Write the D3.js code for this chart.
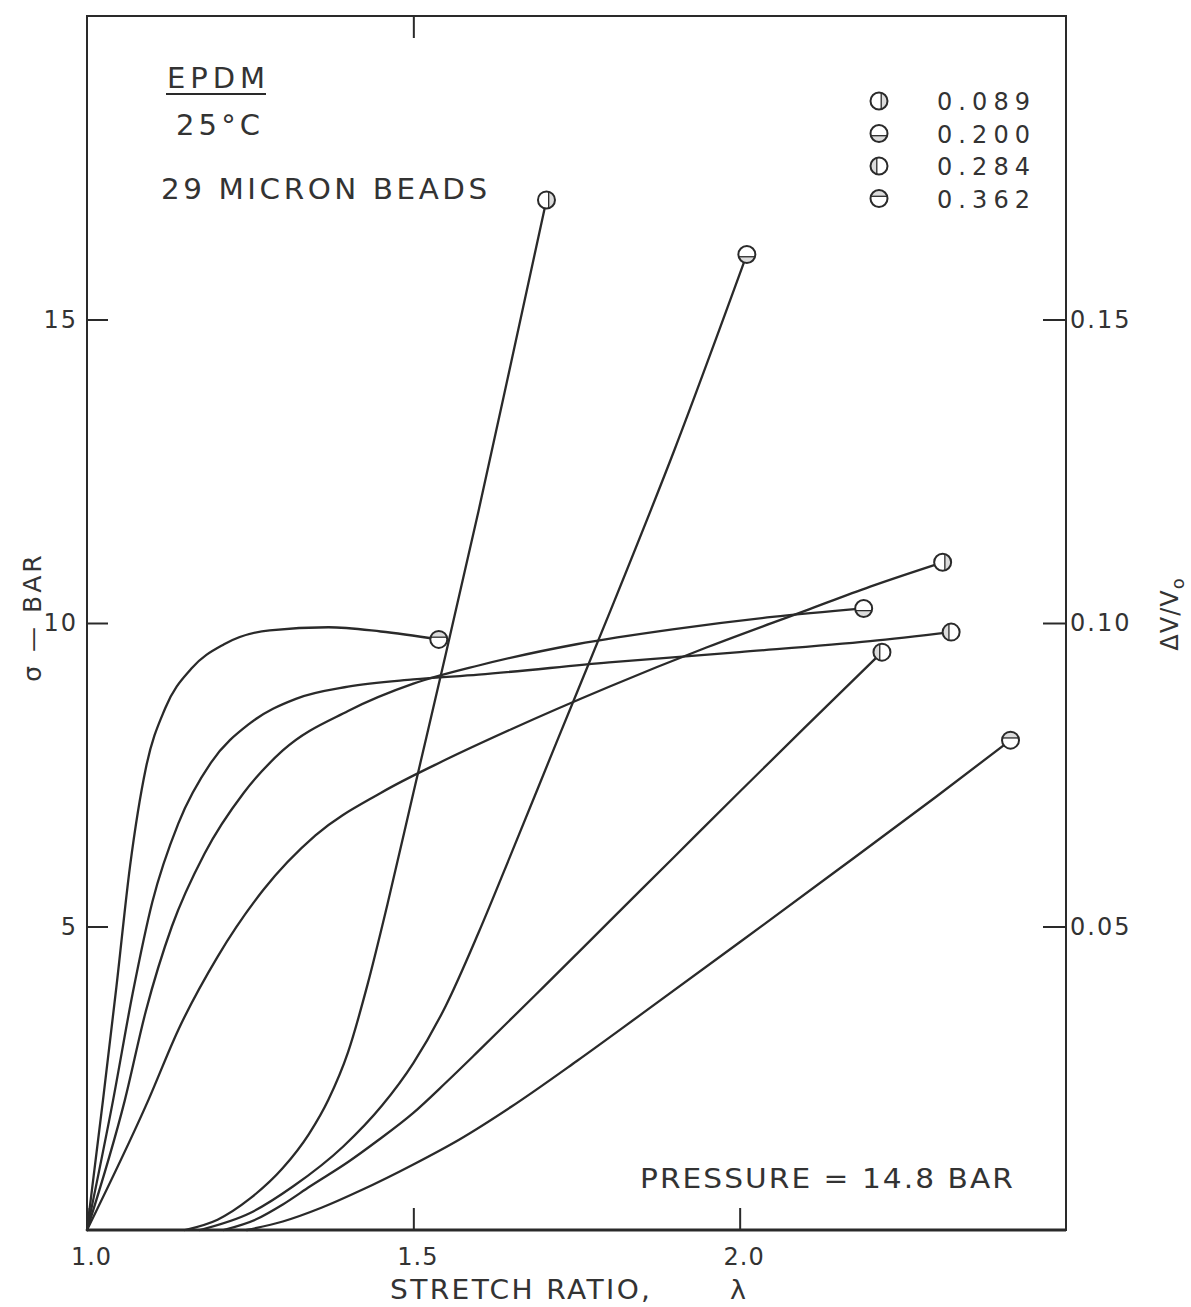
<!DOCTYPE html>
<html>
<head>
<meta charset="utf-8">
<script src="https://cdn.jsdelivr.net/npm/d3@7"></script>
<style>
  html, body { margin: 0; padding: 0; background: #ffffff; }
  svg { display: block; }
  text { font-family: "DejaVu Sans", sans-serif; fill: #333; }
</style>
</head>
<body>
<svg id="chart" width="1191" height="1307"></svg>
<script>
// Stretch-ratio ticks and the two vertical scales
const lambdaTicks = [1.0, 1.5, 2.0];
const stressTicks = [5, 10, 15];
const dilationTicks = [0.05, 0.10, 0.15];

// Bead volume fractions (legend order) and their marker styles
const fractions = ["0.089", "0.200", "0.284", "0.362"];
const markerKinds = ["vRight", "hLow", "vLeft", "hHigh"];

// Engineering stress sigma (bar) vs stretch ratio, one curve per volume fraction
const stress089 = [[1.0,0],[1.094,2.14],[1.14,3.3],[1.2,4.5],[1.27,5.6],[1.35,6.5],[1.45,7.2],[1.55,7.75],[1.65,8.25],[1.8,8.95],[1.95,9.6],[2.1,10.2],[2.2,10.6],[2.311,11.0]];
const stress200 = [[1.0,0],[1.058,2.14],[1.09,3.6],[1.13,5.0],[1.18,6.2],[1.24,7.2],[1.3,7.9],[1.4,8.55],[1.5,9.0],[1.6,9.3],[1.75,9.65],[1.9,9.9],[2.05,10.1],[2.19,10.24]];
const stress284 = [[1.0,0],[1.04,2.14],[1.07,3.9],[1.1,5.4],[1.14,6.7],[1.19,7.7],[1.25,8.35],[1.32,8.75],[1.4,8.95],[1.5,9.07],[1.6,9.15],[1.8,9.35],[2.0,9.52],[2.2,9.7],[2.324,9.85]];
const stress362 = [[1.0,0],[1.0245,2.14],[1.045,4.0],[1.066,6.0],[1.09,7.6],[1.12,8.6],[1.16,9.25],[1.21,9.65],[1.28,9.88],[1.37,9.93],[1.45,9.86],[1.539,9.73]];

// Volume dilatation dV/V0 vs stretch ratio
const dilation089 = [[1.15,0],[1.2,0.0017],[1.25,0.0052],[1.3,0.0102],[1.34,0.0158],[1.37,0.0215],[1.4,0.0293],[1.43,0.0405],[1.46,0.0535],[1.5,0.072],[1.55,0.095],[1.6,0.1185],[1.65,0.143],[1.704,0.1697]];
const dilation200 = [[1.173,0],[1.25,0.0028],[1.316,0.0072],[1.393,0.0138],[1.452,0.0205],[1.5,0.0275],[1.55,0.037],[1.6,0.049],[1.65,0.062],[1.72,0.0805],[1.8,0.1015],[1.9,0.1285],[2.011,0.1607]];
const dilation284 = [[1.209,0],[1.26,0.0018],[1.3,0.0042],[1.342,0.0072],[1.4,0.0112],[1.445,0.0147],[1.5,0.0193],[1.55,0.0243],[1.6,0.0295],[1.7,0.0401],[1.8,0.0508],[1.9,0.0615],[2.0,0.0722],[2.1,0.0828],[2.218,0.0952]];
const dilation362 = [[1.245,0],[1.3,0.0014],[1.36,0.0037],[1.419,0.0065],[1.5,0.0108],[1.572,0.015],[1.65,0.0203],[1.75,0.0278],[1.85,0.0356],[2.0,0.0474],[2.15,0.0593],[2.3,0.0713],[2.415,0.0807]];

const stressSeries = [stress089, stress200, stress284, stress362];
const dilationSeries = [dilation089, dilation200, dilation284, dilation362];

const ink = "#2a2a2a";
const svg = d3.select("#chart");

const plot = { left: 87, right: 1066, top: 16, bottom: 1230 };

const x = d3.scaleLinear().domain([1.0, 2.5]).range([plot.left, plot.right]);
const y = d3.scaleLinear().domain([0, 20]).range([plot.bottom, plot.top]);
const yRight = d3.scaleLinear().domain([0, 0.20]).range([plot.bottom, plot.top]);

// Frame
svg.append("rect")
  .attr("x", plot.left).attr("y", plot.top)
  .attr("width", plot.right - plot.left).attr("height", plot.bottom - plot.top)
  .attr("fill", "none").attr("stroke", ink).attr("stroke-width", 2);
svg.append("line")
  .attr("x1", plot.left).attr("x2", plot.right)
  .attr("y1", plot.bottom).attr("y2", plot.bottom)
  .attr("stroke", ink).attr("stroke-width", 3);

function styleAxis(g, spacing) {
  g.select(".domain").remove();
  g.selectAll(".tick line").attr("stroke", ink).attr("stroke-width", 2);
  g.selectAll(".tick text")
    .attr("fill", "#333")
    .style("font-family", '"DejaVu Sans", sans-serif')
    .style("font-size", "24px")
    .style("letter-spacing", spacing + "px");
}

// Left axis: stress
svg.append("g")
  .attr("transform", `translate(${plot.left},0)`)
  .call(d3.axisLeft(y).tickValues(stressTicks).tickSize(-21).tickSizeOuter(0)
        .tickPadding(9).tickFormat(d3.format("d")))
  .call(g => styleAxis(g, 2));

// Right axis: dilatation
svg.append("g")
  .attr("transform", `translate(${plot.right},0)`)
  .call(d3.axisRight(yRight).tickValues(dilationTicks).tickSize(-23).tickSizeOuter(0)
        .tickPadding(4).tickFormat(d3.format(".2f")))
  .call(g => styleAxis(g, 2));

// Bottom axis: stretch ratio
svg.append("g")
  .attr("transform", `translate(0,${plot.bottom})`)
  .call(d3.axisBottom(x).tickValues(lambdaTicks).tickSize(-22).tickSizeOuter(0)
        .tickPadding(18).tickFormat(d3.format(".1f")))
  .call(g => styleAxis(g, 1))
  .call(g => g.selectAll(".tick text").attr("dx", 4));

// Single top tick at 1.5
svg.append("g")
  .attr("transform", `translate(0,${plot.top})`)
  .call(d3.axisTop(x).tickValues([1.5]).tickSize(-22).tickSizeOuter(0).tickFormat(""))
  .call(g => styleAxis(g, 0));

// Wide lettering: horizontally stretched text anchored at (x0, y0)
function wideText(x0, y0, str, size, stretch, spacing) {
  return svg.append("text")
    .attr("transform", `translate(${x0},${y0}) scale(${stretch},1)`)
    .style("font-size", size + "px")
    .style("letter-spacing", spacing + "px")
    .text(str);
}

// Axis titles
wideText(390, 1299, "STRETCH RATIO,", 26, 1.08, 2.2);
svg.append("text")
  .attr("x", 730).attr("y", 1299)
  .style("font-size", "27px")
  .text("λ");

svg.append("text")
  .attr("transform", "translate(41,617) rotate(-90)")
  .attr("text-anchor", "middle")
  .style("font-size", "25px").style("letter-spacing", "3px")
  .text("σ — BAR");

const dvLabel = svg.append("text")
  .attr("transform", "translate(1178,614) rotate(-90)")
  .attr("text-anchor", "middle")
  .style("font-size", "24px").style("letter-spacing", "1px");
dvLabel.append("tspan").text("ΔV/V");
dvLabel.append("tspan").attr("dy", 6).style("font-size", "18px").text("o");

// Annotations
svg.append("text").attr("x", 167).attr("y", 88)
  .attr("textLength", 98).attr("lengthAdjust", "spacing")
  .style("font-size", "29px").text("EPDM");
svg.append("line").attr("x1", 166).attr("x2", 266).attr("y1", 94).attr("y2", 94)
  .attr("stroke", ink).attr("stroke-width", 2);
svg.append("text").attr("x", 176).attr("y", 135)
  .attr("textLength", 84).attr("lengthAdjust", "spacing")
  .style("font-size", "29px").text("25°C");
wideText(161, 199, "29 MICRON BEADS", 28, 1.05, 3.4);
wideText(640, 1188, "PRESSURE = 14.8  BAR", 26, 1.14, 1.8);

// Curves
const line = d3.line()
  .x(d => x(d[0]))
  .curve(d3.curveMonotoneX);

const curves = svg.append("g").attr("fill", "none").attr("stroke", ink)
  .attr("stroke-width", 2.3).attr("stroke-linecap", "round");

stressSeries.forEach(s => {
  curves.append("path").attr("d", line.y(d => y(d[1]))(s));
});
dilationSeries.forEach(s => {
  curves.append("path").attr("d", line.y(d => yRight(d[1]))(s));
});

// Marker glyph: circle split by an off-centre chord, one side lightly shaded
function drawMarker(g, cx, cy, kind) {
  const r = 8.5, off = 2.2;
  const h = Math.sqrt(r * r - off * off);
  const m = g.append("g").attr("transform", `translate(${cx},${cy})`);
  m.append("circle").attr("r", r).attr("fill", "#fff");
  let shade, chord;
  if (kind === "vRight") {
    shade = `M${off},${-h} A${r},${r} 0 0 1 ${off},${h} Z`;
    chord = [off, -h, off, h];
  } else if (kind === "vLeft") {
    shade = `M${-off},${-h} A${r},${r} 0 0 0 ${-off},${h} Z`;
    chord = [-off, -h, -off, h];
  } else if (kind === "hLow") {
    shade = `M${-h},${off} A${r},${r} 0 0 0 ${h},${off} Z`;
    chord = [-h, off, h, off];
  } else {
    shade = `M${-h},${-off} A${r},${r} 0 0 1 ${h},${-off} Z`;
    chord = [-h, -off, h, -off];
  }
  m.append("path").attr("d", shade).attr("fill", "#dcdcdc").attr("stroke", "none");
  m.append("line").attr("x1", chord[0]).attr("y1", chord[1])
    .attr("x2", chord[2]).attr("y2", chord[3])
    .attr("stroke", ink).attr("stroke-width", 1.3);
  m.append("circle").attr("r", r).attr("fill", "none")
    .attr("stroke", ink).attr("stroke-width", 2);
}

// End-of-test markers
stressSeries.forEach((s, i) => {
  const p = s[s.length - 1];
  drawMarker(svg, x(p[0]), y(p[1]), markerKinds[i]);
});
dilationSeries.forEach((s, i) => {
  const p = s[s.length - 1];
  drawMarker(svg, x(p[0]), yRight(p[1]), markerKinds[i]);
});

// Legend
const legendTop = 101, legendStep = 32.5;
fractions.forEach((f, i) => {
  const ly = legendTop + i * legendStep;
  drawMarker(svg, 879, ly, markerKinds[i]);
  svg.append("text").attr("x", 937).attr("y", ly + 9)
    .attr("textLength", 93).attr("lengthAdjust", "spacing")
    .style("font-size", "24px").text(f);
});
</script>
</body>
</html>
